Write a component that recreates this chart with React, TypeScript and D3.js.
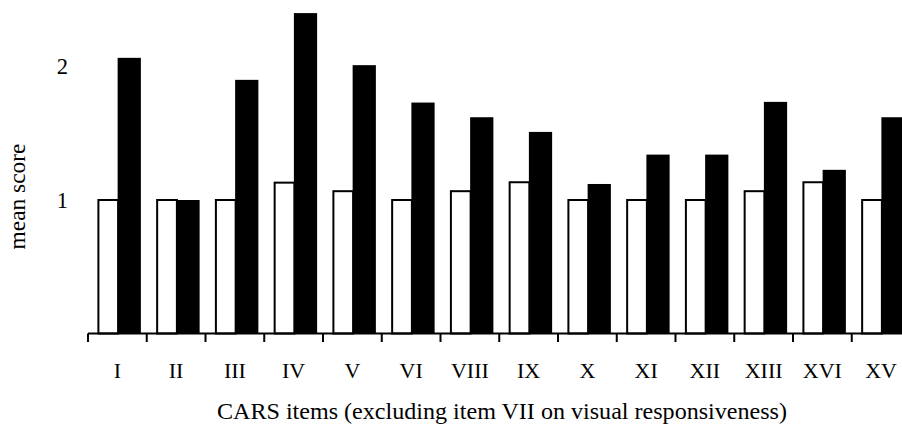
import React from "react";
import * as d3 from "d3";

const categories = ["I", "II", "III", "IV", "V", "VI", "VIII", "IX", "X", "XI", "XII", "XIII", "XVI", "XV"];
const whiteValues = [1.0, 1.0, 1.0, 1.13, 1.066, 1.0, 1.066, 1.133, 1.0, 1.0, 1.0, 1.066, 1.133, 1.0];
const blackValues = [2.065, 1.0, 1.9, 2.4, 2.01, 1.73, 1.62, 1.51, 1.12, 1.34, 1.34, 1.735, 1.226, 1.62];
const yTicks = [1, 2];
const yLabel = "mean score";
const xLabel = "CARS items (excluding item VII on visual responsiveness)";

const W = 902;
const H = 425;
const FONT = "'Liberation Serif', 'Times New Roman', serif";

export default function App() {
  const x = d3.scaleBand<string>().domain(categories).range([88, 88 + 14 * 58.75]).padding(0);
  const bw = x.bandwidth();
  const sub = d3.scaleBand<string>().domain(["w", "b"]).range([bw * 0.16, bw * 0.9]).padding(0);
  const sw = sub.bandwidth();
  const y = d3.scaleLinear().domain([0, 1]).range([333.5, 200]);
  const y0 = y(0);

  return (
    <svg width={W} height={H} style={{ position: "absolute", left: 0, top: 0, background: "#fff" }}>
      <rect x={0} y={0} width={W} height={H} fill="#fff" />
      {categories.map((c, i) => {
        const t = x(c)!;
        const wv = whiteValues[i];
        const bv = blackValues[i];
        const wx = t + sub("w")! + 1;
        const bx = t + sub("b")! - 1.5;
        return (
          <g key={c}>
            <rect x={wx} y={y(wv)} width={sw - 2} height={y0 - y(wv)} fill="#fff" stroke="#000" strokeWidth={2} />
            <rect x={bx} y={y(bv)} width={sw + 1.5} height={y0 - y(bv)} fill="#000" />
          </g>
        );
      })}
      <line x1={88} x2={W} y1={y0} y2={y0} stroke="#000" strokeWidth={2} />
      {categories.map((c) => (
        <line key={"t" + c} x1={x(c)!} x2={x(c)!} y1={y0} y2={y0 + 8.5} stroke="#000" strokeWidth={2} />
      ))}
      {categories.map((c) => (
        <text key={"l" + c} x={x(c)! + bw / 2} y={377.5} textAnchor="middle" fontFamily={FONT} fontSize={22} fill="#000">
          {c}
        </text>
      ))}
      {yTicks.map((v) => (
        <text key={"y" + v} x={68} y={y(v)} dy="0.35em" textAnchor="end" fontFamily={FONT} fontSize={22.5} fill="#000">
          {v}
        </text>
      ))}
      <text
        transform={`translate(25,196.5) rotate(-90)`}
        textAnchor="middle"
        fontFamily={FONT}
        fontSize={22.5}
        fill="#000"
        textLength={106}
        lengthAdjust="spacingAndGlyphs"
      >
        {yLabel}
      </text>
      <text
        x={502}
        y={419}
        textAnchor="middle"
        fontFamily={FONT}
        fontSize={22.5}
        fill="#000"
        textLength={570}
        lengthAdjust="spacingAndGlyphs"
      >
        {xLabel}
      </text>
    </svg>
  );
}
